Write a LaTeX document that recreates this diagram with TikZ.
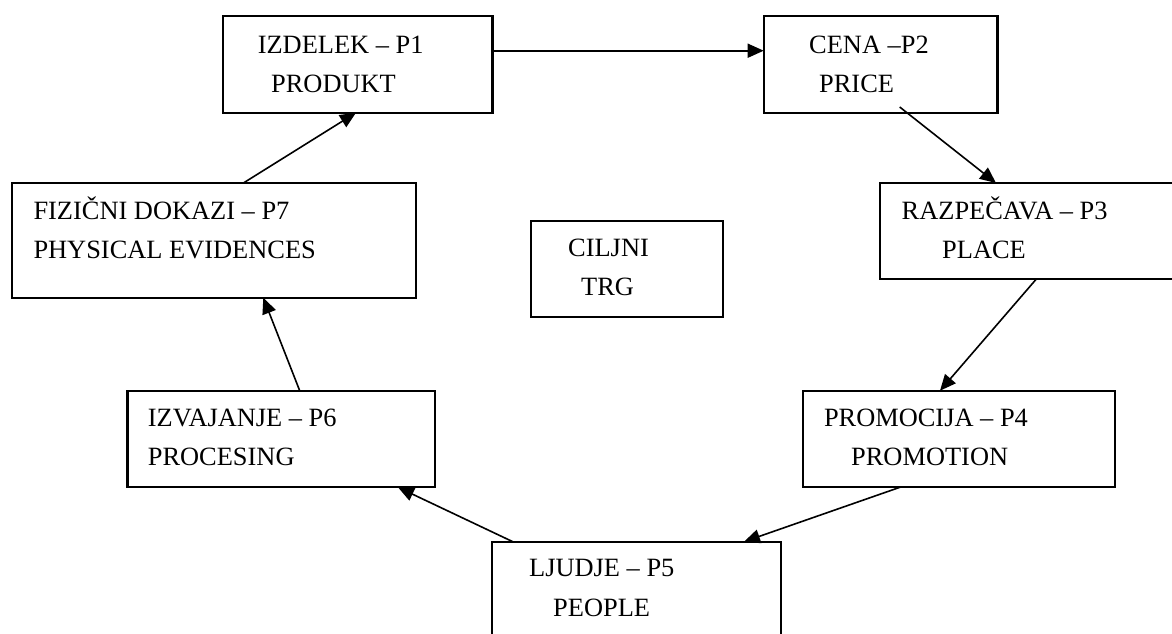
\documentclass[tikz,border=0pt]{standalone}
\usepackage{fontspec}
\setmainfont{Liberation Serif}
\usetikzlibrary{arrows.meta}
\begin{document}
\begin{tikzpicture}[x=1pt,y=-1pt,
  box/.style={draw,line width=2.2pt,inner sep=0pt,outer sep=0pt,anchor=north west},
  lbl/.style={inner sep=0pt,anchor=base west,font=\fontsize{26.4}{32}\selectfont},
  conn/.style={line width=1.6pt,-{Triangle[length=16pt,width=14pt]}}]
\clip (0,0) rectangle (1172,633);
% boxes
\node[box,minimum width=269.5pt,minimum height=96.7pt] (p1) at (223,16) {};
\node[box,minimum width=233.8pt,minimum height=96.7pt] (p2) at (763.7,16) {};
\node[box,minimum width=300pt,minimum height=95.7pt] (p3) at (880,183) {};
\node[box,minimum width=312pt,minimum height=96.3pt] (p4) at (802.7,390.7) {};
\node[box,minimum width=288.7pt,minimum height=110pt] (p5) at (492.3,541.7) {};
\node[box,minimum width=307.6pt,minimum height=96.6pt] (p6) at (127.4,390.7) {};
\node[box,minimum width=404pt,minimum height=114.7pt] (p7) at (12,183) {};
\node[box,minimum width=192pt,minimum height=96pt] (c) at (531,220.7) {};
% texts
\node[lbl] (t1a) at (257.6,53) {IZDELEK – P1};
\node[lbl] (t1b) at (271,92) {PRODUKT};
\node[lbl] (t2a) at (809,53) {CENA –P2};
\node[lbl] (t2b) at (819,92) {PRICE};
\node[lbl] (t3a) at (901.5,219) {RAZPEČAVA – P3};
\node[lbl] (t3b) at (942,258) {PLACE};
\node[lbl] (t4a) at (823.8,426.7) {PROMOCIJA – P4};
\node[lbl] (t4b) at (851,465.7) {PROMOTION};
\node[lbl] (t5a) at (529,576.7) {LJUDJE – P5};
\node[lbl] (t5b) at (553,616) {PEOPLE};
\node[lbl] (t6a) at (147.7,426.7) {IZVAJANJE – P6};
\node[lbl] (t6b) at (147.7,465.7) {PROCESING};
\node[lbl] (t7a) at (33.3,219.3) {FIZIČNI DOKAZI – P7};
\node[lbl] (t7b) at (33.3,258.3) {PHYSICAL EVIDENCES};
\node[lbl] (tca) at (568,256.7) {CILJNI};
\node[lbl] (tcb) at (581,295) {TRG};
% connectors
\draw[conn] ([yshift=-34.7pt]p1.north east) -- ([yshift=-34.7pt]p2.north west);
\draw[conn] ([xshift=136pt,yshift=5.7pt]p2.south west) -- ([xshift=116pt]p3.north west);
\draw[conn] ([xshift=156.6pt]p3.south west) -- ([xshift=137.3pt]p4.north west);
\draw[conn] ([xshift=98pt]p4.south west) -- ([xshift=251.7pt]p5.north west);
\draw[conn] ([xshift=20.5pt]p5.north west) -- ([xshift=270.6pt]p6.south west);
\draw[conn] ([xshift=172.3pt]p6.north west) -- ([xshift=251.3pt]p7.south west);
\draw[conn] ([xshift=231.4pt]p7.north west) -- ([xshift=133pt]p1.south west);
\end{tikzpicture}
\end{document}
